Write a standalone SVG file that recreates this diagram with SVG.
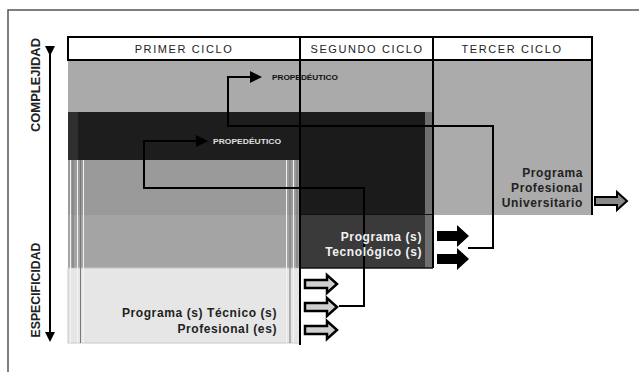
<svg xmlns="http://www.w3.org/2000/svg" width="639" height="372" viewBox="0 0 639 372">
<style>
.hdr{font-family:"Liberation Sans",Arial,sans-serif;font-size:11px;fill:#222;letter-spacing:1.6px;text-anchor:middle}
.ax{font-family:"Liberation Sans",Arial,sans-serif;font-size:12px;font-weight:bold;fill:#222;text-anchor:middle}
.lbl{font-family:"Liberation Sans",Arial,sans-serif;font-size:12px;font-weight:bold;text-anchor:end;letter-spacing:0.6px}
.prop{font-family:"Liberation Sans",Arial,sans-serif;font-size:7.5px;font-weight:bold}
.conn{fill:none;stroke:#000;stroke-width:2}
.div{stroke:#000;stroke-width:2}
.wl{stroke:#f2f2f2;stroke-width:1}
.gl{stroke:#777;stroke-width:1}
</style>
<defs>
<marker id="ah" markerUnits="userSpaceOnUse" markerWidth="12" markerHeight="12" refX="2" refY="6" orient="auto">
<path d="M0,0 L12,6 L0,12 z" fill="#000"/>
</marker>
<marker id="vh" markerUnits="userSpaceOnUse" markerWidth="10" markerHeight="10" refX="2" refY="5" orient="auto">
<path d="M0,0 L10,5 L0,10 z" fill="#000"/>
</marker>
<path id="hollow" d="M0,-4 H22 V-9 L32,0 L22,9 V4 H0 z"/>
<path id="solid" d="M0,-5 H20 V-11 L32,0 L20,11 V5 H0 z"/>
</defs>

<!-- outer frame -->
<rect x="8" y="10" width="700" height="400" fill="#fff" stroke="#555" stroke-width="1.5"/>

<g id="bands">
<!-- first column -->
<rect x="68" y="60" width="232" height="52" fill="#aaaaaa"/>
<rect x="68" y="112" width="232" height="48" fill="#1d1d1d"/>
<rect x="68" y="112" width="10" height="48" fill="#2f2f2f"/>
<rect x="68" y="160" width="232" height="55" fill="#9a9a9a"/>
<rect x="68" y="215" width="232" height="53" fill="#a4a4a4"/>
<rect x="68" y="268" width="232" height="75" fill="#e6e6e6" stroke="#c8c8c8" stroke-width="1"/>
<line class="wl" x1="70.5" y1="160" x2="70.5" y2="343"/>
<line class="gl" x1="73" y1="160" x2="73" y2="268"/>
<line class="wl" x1="77.5" y1="160" x2="77.5" y2="343"/>
<line class="gl" x1="80.5" y1="160" x2="80.5" y2="343"/>
<line class="wl" x1="83.5" y1="160" x2="83.5" y2="343"/>
<line class="wl" x1="286.5" y1="160" x2="286.5" y2="343"/>
<line class="gl" x1="290" y1="160" x2="290" y2="343"/>
<line class="wl" x1="293.5" y1="160" x2="293.5" y2="343"/>
<line class="gl" x1="297" y1="160" x2="297" y2="268"/>
<!-- second column -->
<rect x="300" y="60" width="133" height="52" fill="#aaaaaa"/>
<rect x="300" y="112" width="133" height="103" fill="#1b1b1b"/>
<rect x="300" y="215" width="133" height="53" fill="#3a3a3a"/>
<rect x="425" y="112" width="7" height="156" fill="#6f6f6f"/>
<line x1="300" y1="214.5" x2="433" y2="214.5" stroke="#111" stroke-width="1"/>
<line x1="300" y1="268" x2="433" y2="268" stroke="#111" stroke-width="1.5"/>
<!-- third column -->
<rect x="433" y="60" width="159" height="155" fill="#ababab"/>
</g>

<g id="header">
<rect x="68" y="37" width="524" height="23" fill="#fff" stroke="#000" stroke-width="2"/>
<text class="hdr" x="184" y="53">PRIMER CICLO</text>
<text class="hdr" x="367" y="53">SEGUNDO CICLO</text>
<text class="hdr" x="512" y="53">TERCER CICLO</text>
</g>

<g id="dividers">
<line class="div" x1="300" y1="37" x2="300" y2="345"/>
<line class="div" x1="433" y1="37" x2="433" y2="268"/>
<line class="div" x1="592" y1="37" x2="592" y2="215"/>
</g>

<g id="axis">
<line x1="50" y1="48" x2="50" y2="334" stroke="#000" stroke-width="2" marker-start="url(#vh)" marker-end="url(#vh)"/>
<text class="ax" transform="translate(39.5,85) rotate(-90)" textLength="94" lengthAdjust="spacingAndGlyphs">COMPLEJIDAD</text>
<text class="ax" transform="translate(39.5,290) rotate(-90)" textLength="95" lengthAdjust="spacingAndGlyphs">ESPECIFICIDAD</text>
</g>

<g id="connectors">
<path class="conn" d="M468,248 H493 V126 H228 V77 H252" marker-end="url(#ah)"/>
<path class="conn" d="M339,306 H364 V188 H144 V141 H198" marker-end="url(#ah)"/>
</g>

<g id="propedeutico-1">
<text class="prop" x="272" y="80" fill="#111" textLength="66" lengthAdjust="spacingAndGlyphs">PROPEDÉUTICO</text>
</g>
<g id="propedeutico-2">
<text class="prop" x="213" y="144" fill="#e0e0e0" textLength="68" lengthAdjust="spacingAndGlyphs">PROPEDÉUTICO</text>
</g>

<g id="tecnico">
<text class="lbl" x="277" y="317" fill="#222">Programa (s) Técnico (s)</text>
<text class="lbl" x="277" y="333" fill="#222">Profesional (es)</text>
<use href="#hollow" x="305" y="284" fill="#cfcfcf" stroke="#000" stroke-width="2.5"/>
<use href="#hollow" x="305" y="307" fill="#cfcfcf" stroke="#000" stroke-width="2.5"/>
<use href="#hollow" x="305" y="330" fill="#cfcfcf" stroke="#000" stroke-width="2.5"/>
</g>

<g id="tecnologico">
<text class="lbl" x="422" y="241" fill="#f2f2f2">Programa (s)</text>
<text class="lbl" x="422" y="256" fill="#f2f2f2">Tecnológico (s)</text>
<use href="#solid" x="437" y="236" fill="#000"/>
<use href="#solid" x="437" y="259" fill="#000"/>
</g>

<g id="universitario">
<text class="lbl" x="583" y="177" fill="#222">Programa</text>
<text class="lbl" x="583" y="192" fill="#222">Profesional</text>
<text class="lbl" x="583" y="207" fill="#222">Universitario</text>
<use href="#hollow" x="595" y="201" fill="#8a8a8a" stroke="#000" stroke-width="2"/>
</g>
</svg>
